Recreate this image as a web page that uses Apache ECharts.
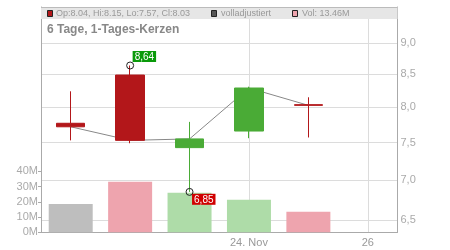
<!DOCTYPE html>
<html><head><meta charset="utf-8">
<script src="https://cdn.jsdelivr.net/npm/echarts@6/dist/echarts.min.js"></script>
<style>html,body{margin:0;padding:0;background:#fff}#c{width:450px;height:250px}</style>
</head><body><div id="c"></div><script>
const categories = ['19. Nov', '20. Nov', '21. Nov', '24. Nov', '25. Nov', '26. Nov'];
const axisLabels = ['', '', '', '24. Nov', '', '26'];
const opens  = [7.77, 8.49, 7.43, 7.66, 8.04];
const closes = [7.72, 7.53, 7.55, 8.29, 8.03];
const lows   = [7.53, 7.49, 6.85, 7.56, 7.57];
const highs  = [8.24, 8.64, 7.79, 8.31, 8.15];
const volumes = [18.6, 33.1, 25.9, 21.3, 13.46]; // in millions
const priceTicks = [6.5, 7.0, 7.5, 8.0, 8.5, 9.0];
const volumeTicks = [0, 10, 20, 30, 40];
const highMark = {index: 1, value: 8.64, text: '8,64'};
const lowMark = {index: 2, value: 6.85, text: '6,85'};
const titleText = '6 Tage, 1-Tages-Kerzen';
const legendTexts = ['Op:8.04, Hi:8.15, Lo:7.57, Cl:8.03', 'volladjustiert', 'Vol: 13.46M'];

const UP = '#4aab36', DOWN = '#b3171a';
const FONT = 'Liberation Sans, Arial, sans-serif';
const candleData = opens.map((o, i) => [o, closes[i], lows[i], highs[i]]);
const volColors = volumes.map((v, i) => i === 0 ? '#bebebe' : (closes[i] >= opens[i] ? '#aedca8' : '#eea4ae'));
const fmt = v => v.toFixed(1).replace('.', ',');

const L = 41, R = 52.5, T = 7, B = 17.7;
const chart = echarts.init(document.getElementById('c'), null, {renderer: 'canvas'});
chart.setOption({
  animation: false,
  textStyle: {fontFamily: FONT},
  grid: [
    {left: L, right: R, top: T, bottom: B},
    {left: L, right: R, top: 171.3, bottom: B}
  ],
  xAxis: [
    {type: 'category', gridIndex: 0, data: categories, boundaryGap: true,
     axisLine: {show: false}, axisTick: {show: false}, axisLabel: {show: false}, splitLine: {show: false}},
    {type: 'category', gridIndex: 1, data: categories, boundaryGap: true,
     axisLine: {show: true, lineStyle: {color: '#aaa'}}, axisTick: {show: false},
     axisLabel: {show: true, interval: 0, formatter: (v, i) => axisLabels[i], color: '#999', fontSize: 11, margin: 5, fontFamily: FONT},
     splitLine: {show: false}}
  ],
  yAxis: [
    {type: 'log', gridIndex: 0, position: 'right', min: 6.36, max: 9.62,
     axisLine: {show: true, lineStyle: {color: '#aaa'}}, axisTick: {show: false}, axisLabel: {show: false}, splitLine: {show: false}},
    {type: 'value', gridIndex: 0, position: 'left', min: 0, max: 1,
     axisLine: {show: true, lineStyle: {color: '#aaa'}}, axisTick: {show: false}, axisLabel: {show: false}, splitLine: {show: false}},
    {type: 'value', gridIndex: 1, position: 'left', min: 0, max: 40, interval: 10,
     axisLine: {show: true, lineStyle: {color: '#aaa'}}, axisTick: {show: true, length: 3, lineStyle: {color: '#aaa'}},
     axisLabel: {show: true, formatter: '{value}M', color: '#aaa', fontSize: 11, margin: 3, fontFamily: FONT},
     splitLine: {show: false}}
  ],
  series: [
    {type: 'line', xAxisIndex: 0, yAxisIndex: 0, data: closes, symbol: 'none', z: 1,
     lineStyle: {color: '#888', width: 1},
     markLine: {silent: true, symbol: 'none', z: 0,
       lineStyle: {color: '#dcdcdc', width: 1, type: 'solid'},
       label: {show: true, position: 'end', distance: 3, color: '#aaa', fontSize: 11, fontFamily: FONT,
               formatter: p => p.data.yAxis !== undefined ? fmt(p.data.yAxis) : ''},
       data: priceTicks.map(v => ({yAxis: v})).concat([{xAxis: 3, label: {show: false}}, {xAxis: 5, label: {show: false}}])
     }},
    {type: 'candlestick', xAxisIndex: 0, yAxisIndex: 0, data: candleData, barWidth: 29, z: 3,
     itemStyle: {color: UP, color0: DOWN, borderColor: UP, borderColor0: DOWN, borderWidth: 1},
     markPoint: {silent: true, symbol: 'circle', symbolSize: 7,
       itemStyle: {color: 'rgba(0,0,0,0)', borderColor: '#222', borderWidth: 1},
       label: {show: true, color: '#fff', fontSize: 10, fontFamily: FONT, lineHeight: 10, padding: [1, 2, 0, 2]},
       data: [
         {coord: [highMark.index, highMark.value], value: highMark.value,
          label: {formatter: highMark.text, position: [6.5, -10.5], backgroundColor: '#0a9a0a'}},
         {coord: [lowMark.index, lowMark.value], value: lowMark.value,
          label: {formatter: lowMark.text, position: [6.5, 5.9], backgroundColor: '#d00000'}}
       ]}},
    {type: 'bar', xAxisIndex: 1, yAxisIndex: 2, data: volumes.map((v, i) => ({value: v, itemStyle: {color: volColors[i]}})),
     barWidth: 44, z: 4}
  ],
  graphic: [
    {type: 'rect', z: 50, shape: {x: L, y: T, width: 450 - L - R, height: 12}, style: {fill: '#e6e6e6', stroke: null}},
    {type: 'line', z: 51, shape: {x1: L, y1: T + 0.5, x2: 450 - R, y2: T + 0.5}, style: {stroke: '#bbb', lineWidth: 1}},
    {type: 'rect', z: 52, shape: {x: 47.5, y: 10.5, width: 5, height: 6}, style: {fill: '#b3171a', stroke: '#222', lineWidth: 1}},
    {type: 'text', z: 52, x: 56, y: 13.5, style: {text: legendTexts[0], font: '9px ' + FONT, fill: '#999', verticalAlign: 'middle'}},
    {type: 'rect', z: 52, shape: {x: 211.5, y: 10.5, width: 5, height: 6}, style: {fill: '#555', stroke: '#222', lineWidth: 1}},
    {type: 'text', z: 52, x: 221, y: 13.5, style: {text: legendTexts[1], font: '9px ' + FONT, fill: '#999', verticalAlign: 'middle'}},
    {type: 'rect', z: 52, shape: {x: 292.5, y: 10.5, width: 5, height: 6}, style: {fill: '#eea4ae', stroke: '#222', lineWidth: 1}},
    {type: 'text', z: 52, x: 302, y: 13.5, style: {text: legendTexts[2], font: '9px ' + FONT, fill: '#999', verticalAlign: 'middle'}},
    {type: 'text', z: 52, x: 47, y: 30, style: {text: titleText, font: 'bold 12px ' + FONT, fill: '#888', verticalAlign: 'middle'}}
  ]
});
</script></body></html>
